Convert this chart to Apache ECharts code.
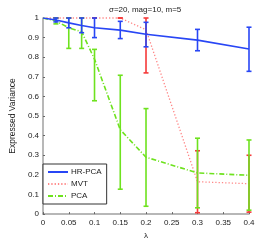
<!DOCTYPE html>
<html><head><meta charset="utf-8">
<script src="https://cdn.jsdelivr.net/npm/echarts@6/dist/echarts.min.js"></script>
<style>html,body{margin:0;padding:0;background:#fff}#c{width:274px;height:245px}</style>
</head><body><div id="c"></div>
<script>
const lambdas = [0, 0.025, 0.05, 0.075, 0.1, 0.15, 0.2, 0.3, 0.4];
const hrMean = [1.0, 0.99, 0.975, 0.962, 0.95, 0.938, 0.917, 0.887, 0.842];
const hrLow  = [null, 0.98, 0.95, 0.925, 0.90, 0.895, 0.853, 0.833, 0.728];
const hrHigh = [null, 1.0, 1.0, 1.0, 1.0, 0.983, 0.978, 0.942, 0.953];
const mvtMean = [1.0, 1.0, 1.0, 1.0, 1.0, 1.0, 0.94, 0.165, 0.155];
const mvtLow  = [null, 1.0, 1.0, 1.0, 1.0, 1.0, 0.72, 0.007, 0.01];
const mvtHigh = [null, 1.0, 1.0, 1.0, 1.0, 1.0, 1.0, 0.323, 0.30];
const pcaMean = [1.0, 0.985, 0.95, 0.93, 0.79, 0.43, 0.29, 0.21, 0.198];
const pcaLow  = [null, 0.97, 0.845, 0.845, 0.578, 0.127, 0.04, 0.032, 0.02];
const pcaHigh = [null, 1.0, 1.0, 1.0, 0.84, 0.708, 0.538, 0.387, 0.378];
const seriesNames = ['HR-PCA', 'MVT', 'PCA'];
const titleText = 'σ=20, mag=10, m=5';
const xName = 'λ';
const yName = 'Expressed Variance';

const BLUE = '#2846f5', RED = '#f53a3a', REDL = '#ff8888', GREEN = '#6ee21e';

function pairs(m){ return lambdas.map((x,i)=>[x,m[i]]); }
function errData(lo,hi){ const d=[]; lambdas.forEach((x,i)=>{ if(lo[i]!=null) d.push([x,lo[i],hi[i]]); }); return d; }
function errSeries(lo,hi,color,z){
  return {
    type:'custom', silent:true, clip:false, z:z,
    data: errData(lo,hi),
    renderItem:function(params,api){
      const x=api.value(0), lo=api.value(1), hi=api.value(2);
      const p1=api.coord([x,lo]), p2=api.coord([x,hi]);
      const w=2.5;
      const st={stroke:color,lineWidth:1.6};
      return {type:'group',children:[
        {type:'line',shape:{x1:p1[0],y1:p1[1],x2:p2[0],y2:p2[1]},style:st},
        {type:'line',shape:{x1:p1[0]-w,y1:p1[1],x2:p1[0]+w,y2:p1[1]},style:st},
        {type:'line',shape:{x1:p2[0]-w,y1:p2[1],x2:p2[0]+w,y2:p2[1]},style:st}
      ]};
    }
  };
}

const chart = echarts.init(document.getElementById('c'), null, {renderer:'canvas'});
const axisFont = {fontFamily:'Liberation Sans, Arial, sans-serif', fontSize:8, color:'#222'};
chart.setOption({
  animation:false,
  title:{text:titleText, left:104, top:1, textStyle:{fontFamily:'Liberation Sans, Arial, sans-serif', fontSize:8, fontWeight:'normal', color:'#222'}},
  grid:{left:36, right:25, top:18, bottom:27},
  xAxis:{type:'value', min:0, max:0.4, interval:0.05,
    name:xName, nameLocation:'middle', nameGap:14, nameTextStyle:axisFont,
    axisLine:{lineStyle:{color:'#a0a0a0', width:1.5}},
    axisTick:{inside:true, length:2, lineStyle:{color:'#666'}},
    axisLabel:Object.assign({margin:5}, axisFont),
    splitLine:{show:false}},
  yAxis:{type:'value', min:0, max:1, interval:0.1,
    name:yName, nameLocation:'middle', nameGap:21, nameTextStyle:Object.assign({}, axisFont, {fontSize:8.5}),
    axisLine:{show:true, lineStyle:{color:'#a0a0a0', width:1.5}},
    axisTick:{show:true, inside:true, length:2, lineStyle:{color:'#666'}},
    axisLabel:Object.assign({margin:4}, axisFont),
    splitLine:{show:false}},
  legend:{orient:'vertical', left:43, top:164, padding:[4,5,4,4],
    itemGap:4, itemWidth:20, itemHeight:8,
    borderColor:'#333', borderWidth:1, backgroundColor:'#fff',
    itemStyle:{opacity:0},
    textStyle:{fontFamily:'Liberation Sans, Arial, sans-serif', fontSize:8, color:'#222', padding:[0,0,0,-2]},
    data:seriesNames},
  series:[
    errSeries(mvtLow,mvtHigh,RED,3),
    errSeries(pcaLow,pcaHigh,GREEN,4),
    errSeries(hrLow,hrHigh,BLUE,5),
    {name:seriesNames[0], type:'line', data:pairs(hrMean), symbol:'none', z:6,
      lineStyle:{color:BLUE, width:1.6}, itemStyle:{color:BLUE}},
    {name:seriesNames[1], type:'line', data:pairs(mvtMean), symbol:'none', z:2, clip:false,
      lineStyle:{color:REDL, width:1.3, type:[1.3,2]}, itemStyle:{color:REDL}},
    {name:seriesNames[2], type:'line', data:pairs(pcaMean), symbol:'none', z:2,
      lineStyle:{color:GREEN, width:1.6, type:[5,2,1,2]}, itemStyle:{color:GREEN}}
  ]
});
</script></body></html>
